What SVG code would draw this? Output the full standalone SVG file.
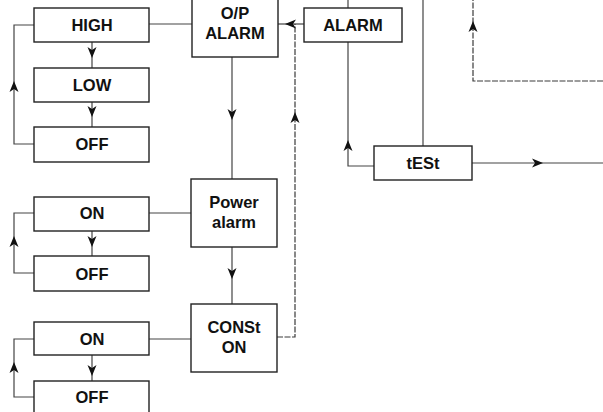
<svg xmlns="http://www.w3.org/2000/svg" xmlns:xlink="http://www.w3.org/1999/xlink" width="603" height="412" viewBox="0 0 603 412">
<style>
.box{fill:#fff;stroke:#222;stroke-width:1.4}
.t{font-family:"Liberation Sans",Arial,sans-serif;font-weight:bold;font-size:16.5px;fill:#111;text-anchor:middle}
.c{fill:none;stroke:#444;stroke-width:1.2}
.d{fill:none;stroke:#3a3a3a;stroke-width:1.2;stroke-dasharray:6 1.5}
.ah{fill:#111}
</style>
<defs>
<path id="ah" class="ah" d="M0,0 L-4.5,-11 L0,-8 L4.5,-11 Z"/>
</defs>
<rect width="603" height="412" fill="#fff"/>
<g id="connectors">
<line class="c" x1="149" y1="24" x2="192" y2="24"/>
<line class="c" x1="92" y1="42" x2="92" y2="68"/>
<line class="c" x1="92" y1="102" x2="92" y2="127"/>
<path class="c" d="M34,144 H14 V25 H34"/>
<line class="c" x1="232" y1="57" x2="232" y2="179"/>
<line class="c" x1="304" y1="24" x2="278" y2="24"/>
<line class="c" x1="348" y1="8" x2="348" y2="0"/>
<path class="c" d="M374,166 H348 V42"/>
<line class="c" x1="423" y1="146" x2="423" y2="0"/>
<path class="d" d="M603,81 H473 V0"/>
<line class="c" x1="472" y1="163" x2="603" y2="163"/>
<line class="c" x1="149" y1="213" x2="191" y2="213"/>
<line class="c" x1="92" y1="231" x2="92" y2="256"/>
<path class="c" d="M34,273 H14 V213 H34"/>
<line class="c" x1="232" y1="247" x2="232" y2="304"/>
<line class="c" x1="149" y1="339" x2="191" y2="339"/>
<line class="c" x1="92" y1="355" x2="92" y2="381"/>
<path class="c" d="M34,397 H14 V339 H34"/>
<path class="d" d="M277,337 H295 V24"/>
<use xlink:href="#ah" transform="translate(92,58)"/>
<use xlink:href="#ah" transform="translate(92,117)"/>
<use xlink:href="#ah" transform="translate(14,81) rotate(180)"/>
<use xlink:href="#ah" transform="translate(232,120)"/>
<use xlink:href="#ah" transform="translate(285,24) rotate(90)"/>
<use xlink:href="#ah" transform="translate(295,112) rotate(180)"/>
<use xlink:href="#ah" transform="translate(348,140) rotate(180)"/>
<use xlink:href="#ah" transform="translate(473,21) rotate(180)"/>
<use xlink:href="#ah" transform="translate(543,163) rotate(-90)"/>
<use xlink:href="#ah" transform="translate(92,247)"/>
<use xlink:href="#ah" transform="translate(14,236) rotate(180)"/>
<use xlink:href="#ah" transform="translate(232,279)"/>
<use xlink:href="#ah" transform="translate(92,376)"/>
<use xlink:href="#ah" transform="translate(14,362) rotate(180)"/>
</g>
<g id="high"><rect class="box" x="34" y="8" width="115" height="34"/><text class="t" x="92" y="31">HIGH</text></g>
<g id="low"><rect class="box" x="34" y="68" width="115" height="34"/><text class="t" x="92" y="91">LOW</text></g>
<g id="off1"><rect class="box" x="34" y="127" width="115" height="35"/><text class="t" x="92" y="150">OFF</text></g>
<g id="opalarm"><rect class="box" x="192" y="-2" width="86" height="59"/><text class="t" x="235" y="19">O/P</text><text class="t" x="235" y="39">ALARM</text></g>
<g id="alarm"><rect class="box" x="304" y="8" width="98" height="34"/><text class="t" x="353" y="31">ALARM</text></g>
<g id="test"><rect class="box" x="374" y="146" width="98" height="34"/><text class="t" x="423" y="169">tESt</text></g>
<g id="on1"><rect class="box" x="34" y="197" width="115" height="34"/><text class="t" x="92" y="219">ON</text></g>
<g id="off2"><rect class="box" x="34" y="256" width="115" height="35"/><text class="t" x="92" y="280">OFF</text></g>
<g id="power"><rect class="box" x="191" y="179" width="86" height="68"/><text class="t" x="234" y="208">Power</text><text class="t" x="234" y="228">alarm</text></g>
<g id="const"><rect class="box" x="191" y="304" width="86" height="68"/><text class="t" x="234" y="333">CONSt</text><text class="t" x="234" y="353">ON</text></g>
<g id="on2"><rect class="box" x="34" y="322" width="115" height="33"/><text class="t" x="92" y="345">ON</text></g>
<g id="off3"><rect class="box" x="34" y="381" width="115" height="40"/><text class="t" x="92" y="403">OFF</text></g>
</svg>
